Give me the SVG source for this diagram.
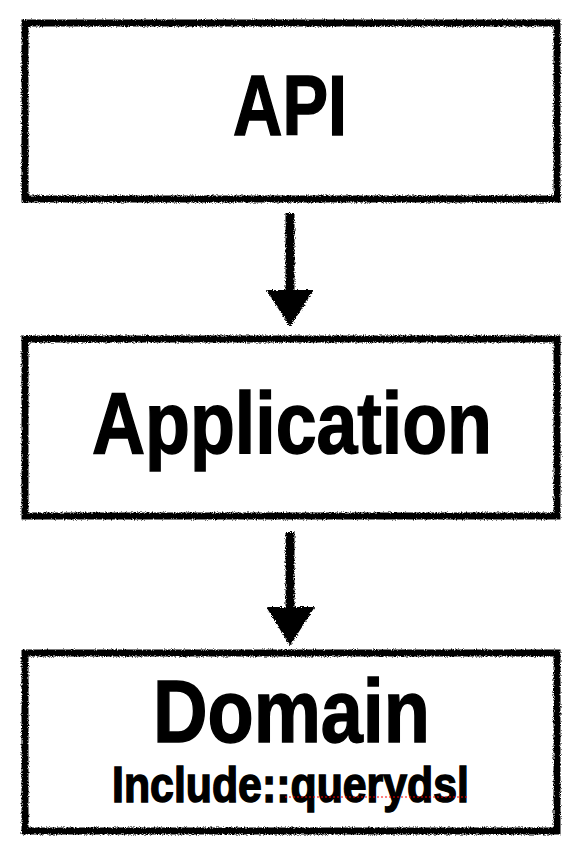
<svg xmlns="http://www.w3.org/2000/svg" width="588" height="852" viewBox="0 0 588 852">
  <defs>
    <filter id="rough" filterUnits="userSpaceOnUse" x="0" y="0" width="588" height="852">
      <feTurbulence type="fractalNoise" baseFrequency="0.9" numOctaves="2" seed="3" result="n"/>
      <feDisplacementMap in="SourceGraphic" in2="n" scale="4" xChannelSelector="R" yChannelSelector="G"/>
    </filter>
    <style>
      .box { fill: #ffffff; stroke: #000000; stroke-width: 7; filter: url(#rough); }
      .title { font-family: "Liberation Sans", "DejaVu Sans", sans-serif; font-weight: bold; fill: #000000; stroke: #000000; stroke-width: 1.5; text-anchor: middle; }
      .shaft { fill: #000000; filter: url(#rough); }
      .head { fill: #000000; stroke: #000000; stroke-width: 2; stroke-linejoin: round; filter: url(#rough); }
    </style>
  </defs>
  <rect width="588" height="852" fill="#ffffff"/>

  <g id="api">
    <rect class="box" x="25" y="23" width="532" height="176"/>
    <text class="title" x="290" y="135" font-size="86" textLength="114" lengthAdjust="spacingAndGlyphs">API</text>
  </g>

  <g id="application">
    <rect class="box" x="25" y="339" width="532" height="177"/>
    <text class="title" x="292" y="453" font-size="87" textLength="400" lengthAdjust="spacingAndGlyphs">Application</text>
  </g>

  <g id="domain">
    <rect class="box" x="25" y="653" width="532" height="178"/>
    <text class="title" x="291.5" y="742" font-size="89" textLength="277" lengthAdjust="spacingAndGlyphs">Domain</text>
    <text class="title" x="290.5" y="802" font-size="50" textLength="357" lengthAdjust="spacingAndGlyphs">Include::querydsl</text>
    <line x1="285" y1="797" x2="468" y2="797" stroke="#ff0000" stroke-width="1" stroke-dasharray="2 2"/>
  </g>

  <g id="connectors">
    <rect class="shaft" x="285.5" y="213" width="9" height="83"/>
    <polygon class="head" points="268,291 312,291 290,325"/>
    <rect class="shaft" x="285.5" y="532" width="9" height="81"/>
    <polygon class="head" points="268,608 313,608 290,644"/>
  </g>
</svg>
